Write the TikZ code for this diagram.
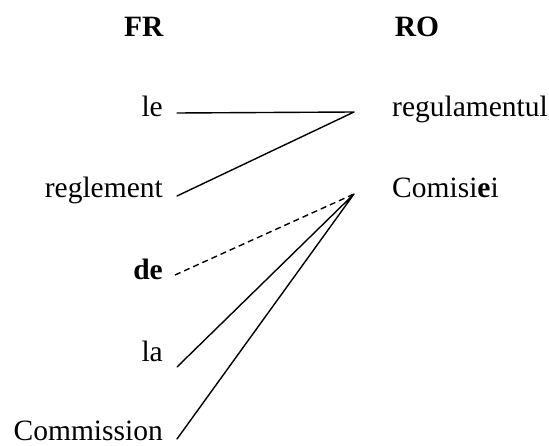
\documentclass[tikz,border=0pt]{standalone}
\usepackage{fontspec}
\setmainfont{Liberation Serif}
\begin{document}
\begin{tikzpicture}[x=1pt,y=-1pt,
  lbl/.style={inner sep=0pt,font=\fontsize{29.5}{34}\selectfont},
  frw/.style={lbl,anchor=base east},
  row/.style={lbl,anchor=base west},
  link/.style={line width=1.4pt,line cap=round,line join=round},
  dlink/.style={link,dash pattern=on 6pt off 4pt,line cap=butt}]
\useasboundingbox (0,0) rectangle (549,446);
% headers
\node[lbl,anchor=base] (fr) at (144,37) {\textbf{FR}};
\node[lbl,anchor=base] (ro) at (417,37) {\textbf{RO}};
% French words
\node[frw] (le) at (163,117) {le};
\node[frw] (reglement) at (163,198) {reglement};
\node[frw] (de) at (163,280) {\textbf{de}};
\node[frw] (la) at (163,362) {la};
\node[frw] (commission) at (163,440) {Commission};
% Romanian words
\node[row] (regulamentul) at (392,117) {regulamentul};
\node[row] (comisiei) at (392,198) {Comisi\textbf{e}i};
% connector ends
\coordinate (pLe) at (177,113);
\coordinate (pReg) at (177,196);
\coordinate (pDe) at (175,275);
\coordinate (pLa) at (177,367);
\coordinate (pCom) at (177,439);
\coordinate (hubR) at (354,112);
\coordinate (hubC) at (354,194);
% links
\draw[link] (pLe) -- (hubR) -- (pReg);
\draw[dlink] (pDe) -- (hubC);
\draw[link] (pLa) -- (hubC) -- (pCom);
\end{tikzpicture}
\end{document}
